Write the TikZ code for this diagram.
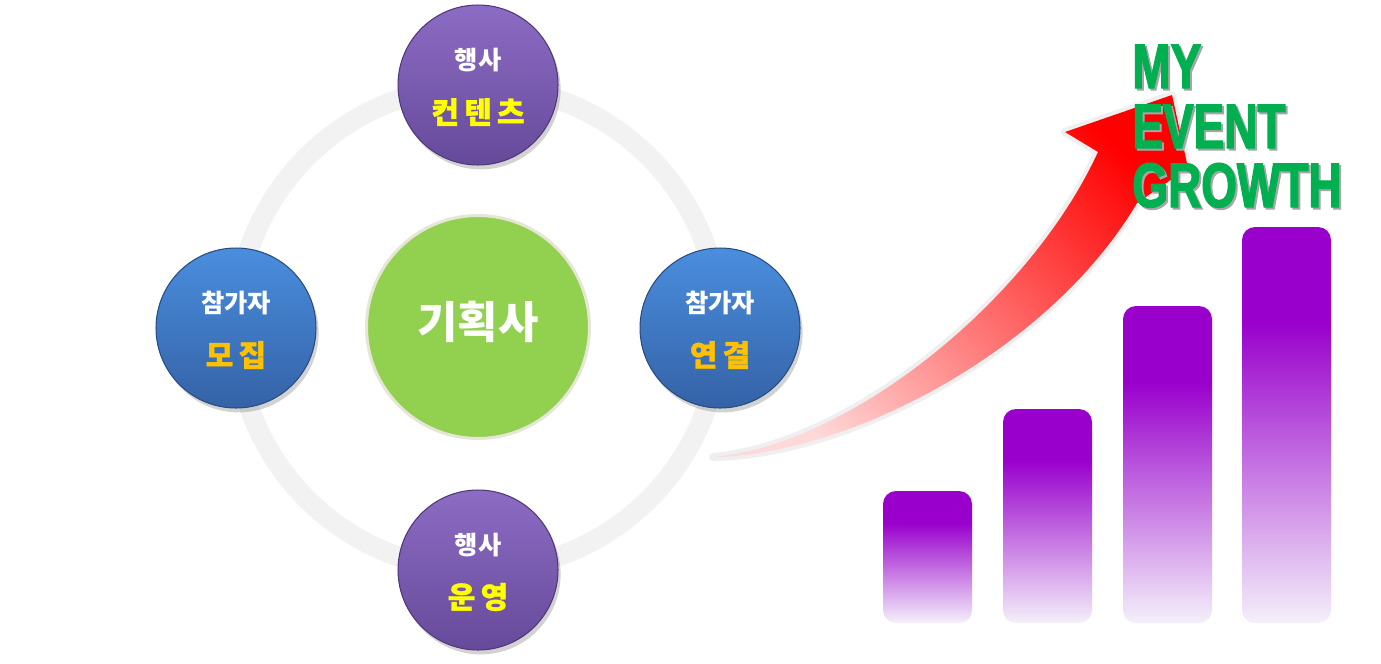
\documentclass[tikz,border=0pt]{standalone}
\usepackage{fontspec}
\newfontfamily\krfont{Noto Sans CJK KR}
\newfontfamily\krwide[LetterSpace=18, FakeBold=1.2]{Noto Sans CJK KR}
\newfontfamily\growthfont[FakeStretch=0.73, FakeBold=2]{Liberation Sans}
\usetikzlibrary{shadows}
\tikzset{>=latex}

\definecolor{ringgray}{HTML}{F2F2F2}
\definecolor{purpletop}{HTML}{8C6CC4}
\definecolor{purplebot}{HTML}{664A9A}
\definecolor{purplerim}{HTML}{4E3878}
\definecolor{bluetop}{HTML}{4A8EDE}
\definecolor{bluebot}{HTML}{3462A6}
\definecolor{bluerim}{HTML}{284C80}
\definecolor{hubgreen}{HTML}{92D050}
\definecolor{hubrim}{HTML}{E6E6D6}
\definecolor{gold}{HTML}{FFC000}
\definecolor{lemon}{HTML}{FFFF00}
\definecolor{growthgreen}{HTML}{00B050}
\definecolor{barpurple}{HTML}{9900CC}
\definecolor{barpale}{HTML}{F4F0FA}
\definecolor{arrowline}{HTML}{EFEFEF}

\pgfdeclareverticalshading{barshade}{100bp}{color(0bp)=(barpale); color(25bp)=(barpale); color(63bp)=(barpurple); color(100bp)=(barpurple)}

\tikzset{
  ball/.style={circle, minimum size=3.2cm, inner sep=0pt, line width=0.6pt,
    drop shadow={shadow xshift=1.5pt, shadow yshift=-2.5pt, opacity=0.35}},
  purpleball/.style={ball, top color=purpletop, bottom color=purplebot, draw=purplerim},
  blueball/.style={ball, top color=bluetop, bottom color=bluebot, draw=bluerim},
  smalltext/.style={text=white, inner sep=0pt, font=\krfont\bfseries\fontsize{14.4}{16}\selectfont},
  bigtext/.style={inner sep=0pt, font=\krwide\bfseries\fontsize{17}{19}\selectfont},
  growthtext/.style={anchor=base west, inner sep=0pt, font=\growthfont\bfseries\fontsize{35.8}{36}\selectfont},
}

\begin{document}
\begin{tikzpicture}[x=0.02cm, y=-0.02cm]
\fill[white] (0,0) rectangle (1381,663);

% ring behind the circles
\draw[ringgray, line width=0.4cm] (478,328) circle (242);

% centre
\node[circle, minimum size=4.46cm, fill=hubgreen, draw=hubrim, line width=0.06cm] (hub) at (478,327) {};
\node[text=white, inner sep=0pt, font=\krfont\bfseries\fontsize{25}{27}\selectfont] (hubtext) at (478,322) {기획사};

% four balls
\node[purpleball] (content) at (478,85) {};
\node[smalltext] (content-a) at ([yshift=0.5cm]content.center) {행사};
\node[bigtext, text=lemon] (content-b) at ([yshift=-0.54cm]content.center) {컨텐츠};

\node[blueball] (recruit) at (236,328) {};
\node[smalltext] (recruit-a) at ([yshift=0.5cm]recruit.center) {참가자};
\node[bigtext, text=gold] (recruit-b) at ([yshift=-0.54cm]recruit.center) {모집};

\node[blueball] (connect) at (720,328) {};
\node[smalltext] (connect-a) at ([yshift=0.5cm]connect.center) {참가자};
\node[bigtext, text=gold] (connect-b) at ([yshift=-0.54cm]connect.center) {연결};

\node[purpleball] (operate) at (478,570) {};
\node[smalltext] (operate-a) at ([yshift=0.5cm]operate.center) {행사};
\node[bigtext, text=lemon] (operate-b) at ([yshift=-0.54cm]operate.center) {운영};

% growth arrow
\shade[top color=red, middle color=red!70, bottom color=red!15, shading angle=-45,
  preaction={draw=arrowline, line width=0.16cm, line join=round}]
  (713,457) .. controls (850,445) and (1030,300) .. (1098,152)
  -- (1065,132) -- (1172,95) -- (1188,168) -- (1137,203)
  .. controls (1050,350) and (850,455) .. (713,457) -- cycle;

% bars
\foreach \x/\y in {883/491, 1003/409, 1123/306, 1242/227}
  \shade[shading=barshade, rounded corners=0.26cm] (\x,\y) rectangle ({\x+89},623);

% title
\foreach \word/\base [count=\i] in {MY/88, EVENT/148, GROWTH/207} {
  \node[growthtext, text=black!35] (shadow-\i) at (1134,\base+2) {\word};
  \node[growthtext, text=growthgreen] (word-\i) at (1132,\base) {\word};
}
\end{tikzpicture}
\end{document}
